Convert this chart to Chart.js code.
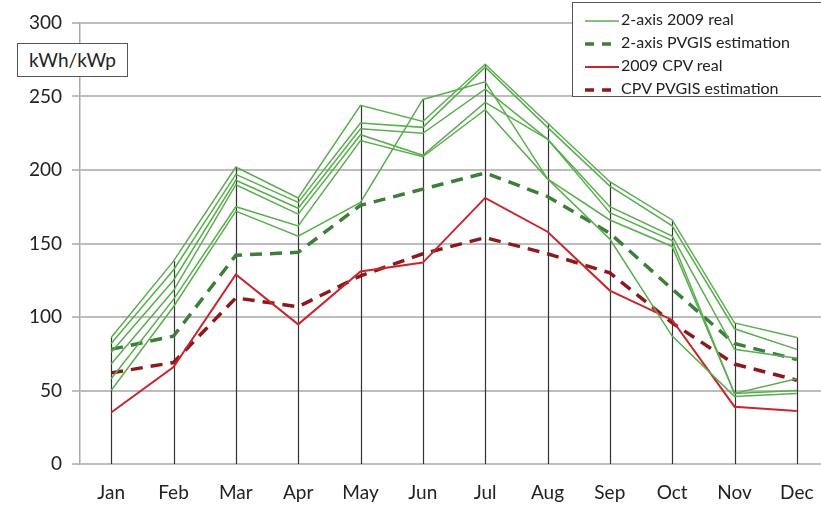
<!DOCTYPE html>
<html lang="en">
<head>
  <meta charset="UTF-8">
  <title>kWh/kWp monthly</title>
  <script src="https://cdn.jsdelivr.net/npm/chart.js"></script>
  <style>
    body { margin: 0; background: #fff; overflow: hidden; font-family: Lato, "DejaVu Sans", sans-serif; }
    #wrap { position: relative; width: 840px; height: 510px; }
    #unit {
      position: absolute; left: 17px; top: 43px; width: 109px; height: 32px;
      border: 1px solid #555; background: #fff; color: #222;
      font-size: 19px; line-height: 32px; text-align: center;
    }
    #legend {
      position: absolute; left: 572px; top: 2px; width: 270px; height: 93px;
      border: 1px solid #555; background: #fff; color: #222;
      font-size: 16px;
    }
    #legend div { position: absolute; left: 12px; height: 23px; line-height: 23px; white-space: nowrap; }
    #legend canvas { vertical-align: middle; margin-right: 2px; }
  </style>
</head>
<body>
  <div id="wrap">
    <canvas id="chart" width="840" height="510"></canvas>
    <div id="unit">kWh/kWp</div>
    <div id="legend"></div>
  </div>

  <script>
    const months = ["Jan", "Feb", "Mar", "Apr", "May", "Jun", "Jul", "Aug", "Sep", "Oct", "Nov", "Dec"];

    // 2-axis trackers, 2009 measured (one line per tracker)
    const tracker1 = [86, 138, 202, 181, 244, 233, 272, 232, 192, 166, 96, 86];
    const tracker2 = [82, 132, 197, 178, 232, 229, 270, 229, 189, 162, 92, 78];
    const tracker3 = [76, 125, 193, 174, 228, 225, 255, 221, 175, 155, 78, 72];
    const tracker4 = [68, 118, 190, 170, 224, 210, 246, 221, 171, 152, 48, 58];
    const tracker5 = [58, 112, 175, 162, 220, 209, 241, 194, 166, 148, 48, 50];
    const tracker6 = [50, 107, 172, 155, 178, 248, 260, 194, 153, 87, 46, 48];
    const twoAxisPvgis = [78, 87, 142, 144, 176, 187, 198, 182, 157, 119, 82, 71];
    const cpvReal = [35, 66, 129, 95, 131, 137, 181, 158, 118, 98, 39, 36];
    const cpvPvgis = [62, 69, 113, 107, 128, 143, 154, 143, 130, 96, 68, 57];

    const yTicks = [0, 50, 100, 150, 200, 250, 300];
    const legendLabels = ["2-axis 2009 real", "2-axis PVGIS estimation", "2009 CPV real", "CPV PVGIS estimation"];

    const GREEN = "#5aae4e";
    const GREEN_D = "#3d7e3b";
    const RED = "#c8262c";
    const RED_D = "#8c1a1c";

    const realSets = [tracker1, tracker2, tracker3, tracker4, tracker5, tracker6].map((d, i) => ({
      label: "2-axis 2009 real " + (i + 1),
      data: d,
      borderColor: GREEN,
      borderWidth: 1.5
    }));

    const datasets = realSets.concat([
      { label: legendLabels[1], data: twoAxisPvgis, borderColor: GREEN_D, borderWidth: 3.5, borderDash: [12, 8] },
      { label: legendLabels[2], data: cpvReal, borderColor: RED, borderWidth: 2 },
      { label: legendLabels[3], data: cpvPvgis, borderColor: RED_D, borderWidth: 3.5, borderDash: [12, 8] }
    ]);

    // vertical drop lines from the highest value of each month down to 0
    const dropLines = {
      id: "dropLines",
      beforeDatasetsDraw(chart) {
        const { ctx, scales: { x, y } } = chart;
        ctx.save();
        ctx.strokeStyle = "#333";
        ctx.lineWidth = 1.2;
        months.forEach((m, i) => {
          const top = Math.max(...chart.data.datasets.map(ds => ds.data[i]));
          const px = Math.round(x.getPixelForValue(i)) + 0.5;
          ctx.beginPath();
          ctx.moveTo(px, y.getPixelForValue(0));
          ctx.lineTo(px, y.getPixelForValue(top));
          ctx.stroke();
        });
        ctx.restore();
      }
    };

    new Chart(document.getElementById("chart"), {
      type: "line",
      data: { labels: months, datasets: datasets },
      options: {
        responsive: false,
        animation: false,
        elements: { point: { radius: 0 }, line: { tension: 0, fill: false } },
        layout: { padding: { top: 23, right: 12, left: 0, bottom: 0 } },
        plugins: { legend: { display: false }, tooltip: { enabled: false } },
        scales: {
          x: {
            offset: true,
            afterFit: s => { s.height = 46; },
            grid: { display: false, drawTicks: false },
            border: { display: false },
            ticks: { color: "#222", font: { family: "Lato", size: 19 }, padding: 17 }
          },
          y: {
            min: 0,
            max: 300,
            afterFit: s => { s.width = 80; },
            afterBuildTicks: s => { s.ticks = yTicks.map(v => ({ value: v })); },
            grid: { color: "#bdbdbd", lineWidth: 2, tickLength: 8 },
            border: { display: true, color: "#aaa", width: 1.5 },
            ticks: { color: "#222", font: { family: "Lato", size: 19 }, padding: 10 }
          }
        }
      },
      plugins: [dropLines]
    });

    // legend box drawn as html
    const legendStyles = [
      { color: GREEN, width: 1.5, dash: [] },
      { color: GREEN_D, width: 3.5, dash: [9, 8] },
      { color: RED, width: 2, dash: [] },
      { color: RED_D, width: 3.5, dash: [9, 8] }
    ];
    const legend = document.getElementById("legend");
    legendLabels.forEach((txt, i) => {
      const row = document.createElement("div");
      row.style.top = (4 + i * 23) + "px";
      const c = document.createElement("canvas");
      c.width = 34; c.height = 10;
      const g = c.getContext("2d");
      g.strokeStyle = legendStyles[i].color;
      g.lineWidth = legendStyles[i].width;
      g.setLineDash(legendStyles[i].dash);
      g.beginPath(); g.moveTo(0, 5); g.lineTo(34, 5); g.stroke();
      row.appendChild(c);
      row.appendChild(document.createTextNode(txt));
      legend.appendChild(row);
    });
  </script>
</body>
</html>
